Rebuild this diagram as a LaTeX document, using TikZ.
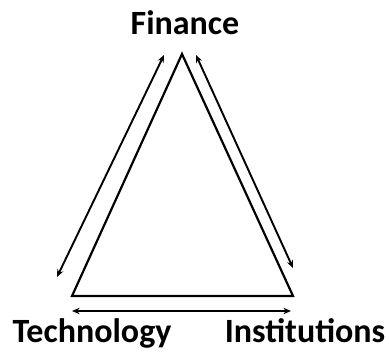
\documentclass[tikz,border=0pt]{standalone}
\usepackage{fontspec}
\setmainfont{Carlito}
\usetikzlibrary{arrows.meta}
\begin{document}
\begin{tikzpicture}[x=0.5pt,y=-0.5pt]
\useasboundingbox (0,0) rectangle (389,352);
\tikzset{lbl/.style={anchor=base, font=\fontsize{17}{20}\selectfont\bfseries, inner sep=0pt},
  link/.style={line width=0.95pt, {Stealth[length=3.8pt,width=3.2pt]}-{Stealth[length=3.8pt,width=3.2pt]}}}
\node[lbl] (fin) at (185,35){Finance};
\node[lbl] (tech) at (92,342){Technology};
\node[lbl] (inst) at (305,342){Institutions};
\coordinate (top) at (182,54);
\coordinate (bl) at (72,296);
\coordinate (br) at (293,296);
\draw[line width=1.1pt, line join=miter] (top) -- (bl) -- (br) -- cycle;
\coordinate (fl1) at (164,55);
\coordinate (fl2) at (57,277);
\draw[link](fl1) -- (fl2);
\coordinate (fr1) at (196,55);
\coordinate (fr2) at (293,268);
\draw[link](fr1) -- (fr2);
\coordinate (tb1) at (72,311);
\coordinate (tb2) at (291,311);
\draw[link](tb1) -- (tb2);
\end{tikzpicture}
\end{document}
